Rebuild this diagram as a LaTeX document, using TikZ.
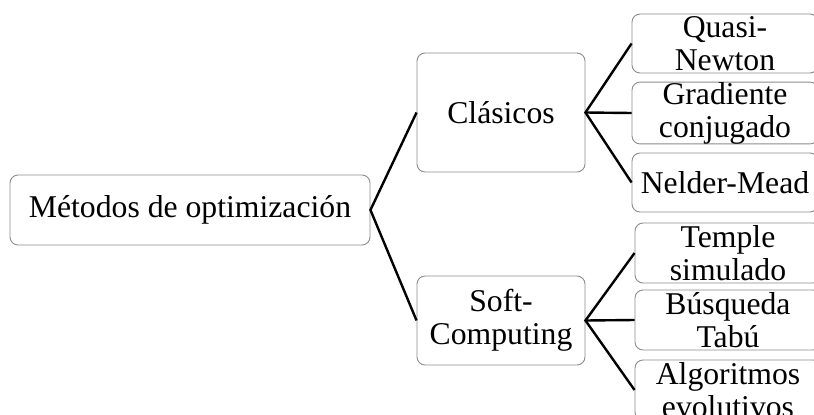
\documentclass[tikz,border=0pt]{standalone}
\usepackage{fontspec}
\setmainfont{Liberation Serif}
\begin{document}
\begin{tikzpicture}[x=1pt,y=-1pt,
  box/.style={draw=black!45,line width=0.9pt,rounded corners=8pt,fill=white,
    inner sep=0pt,align=center,font=\fontsize{31.7}{33}\selectfont},
  link/.style={draw=black,line width=2.4pt}]
\clip (0,0) rectangle (814,415);
\useasboundingbox (0,0) rectangle (814,415);
% root
\node[box,minimum width=360pt,minimum height=70pt] (root) at (190,210) {Métodos de optimización};
% second level
\node[box,minimum width=168pt,minimum height=119pt] (cla) at (501,112.5) {Clásicos};
\node[box,minimum width=168pt,minimum height=89pt] (soft) at (501,320.5) {Soft-\\Computing};
% leaves under Clásicos
\node[box,minimum width=186pt,minimum height=59pt] (qn) at (725,43.5) {Quasi-\\Newton};
\node[box,minimum width=186pt,minimum height=60pt] (gc) at (725,113) {Gradiente\\conjugado};
\node[box,minimum width=186pt,minimum height=59pt] (nm) at (725,182.5) {Nelder-Mead};
% leaves under Soft-Computing
\node[box,minimum width=186pt,minimum height=60pt] (ts) at (728,253) {Temple\\simulado};
\node[box,minimum width=186pt,minimum height=60pt] (bt) at (728,320) {Búsqueda\\Tabú};
\node[box,minimum width=186pt,minimum height=60pt] (ae) at (728,390) {Algoritmos\\evolutivos};
% connectors
\draw[link] (cla.west) -- (root.east) -- (soft.west);
\draw[link] (qn.west) -- (cla.east) -- (nm.west);
\draw[link] (cla.east) -- (gc.west);
\draw[link] (ts.west) -- (soft.east) -- (ae.west);
\draw[link] (soft.east) -- (bt.west);
\end{tikzpicture}
\end{document}
